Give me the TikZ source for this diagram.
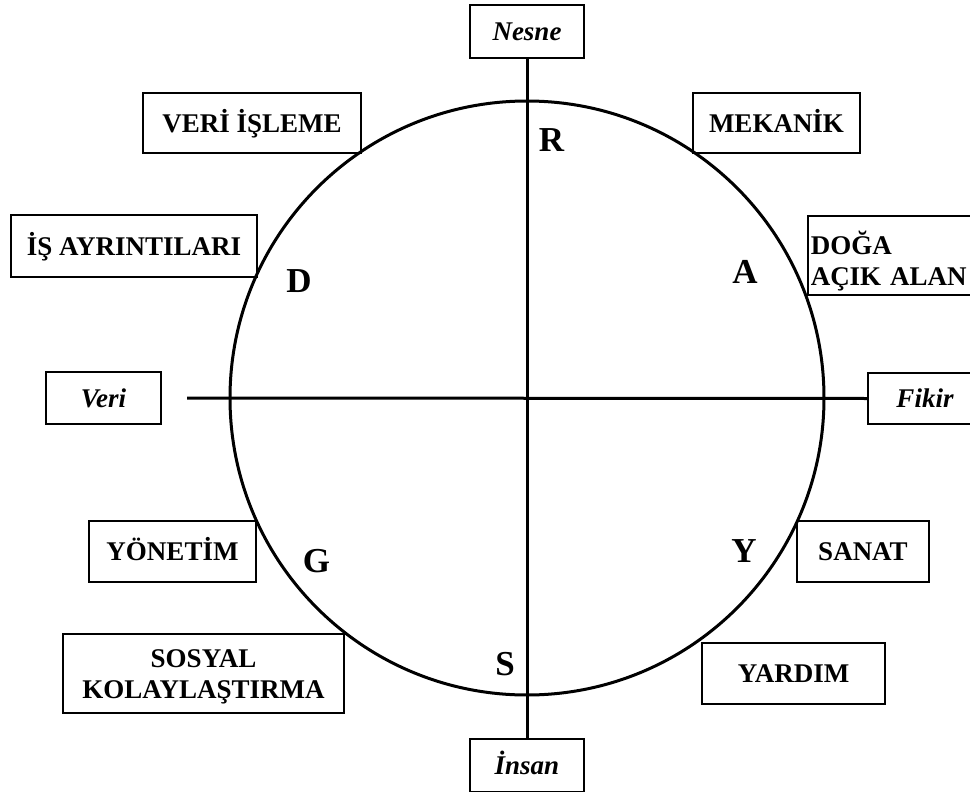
\documentclass[tikz,border=0pt]{standalone}
\usepackage{fontspec}
\setmainfont{Liberation Serif}
\begin{document}
\begin{tikzpicture}[x=1pt,y=-1pt,
  box/.style={draw, line width=1.5pt, inner sep=0pt, align=center,
    font=\fontsize{27}{31}\selectfont\bfseries},
  onebox/.style={box, text height=18pt, text depth=0pt},
  axisbox/.style={onebox, font=\fontsize{27}{31}\selectfont\bfseries\itshape,
    minimum width=114pt, minimum height=53pt},
  quad/.style={inner sep=0pt, text height=23pt, text depth=0pt,
    font=\fontsize{35}{40}\selectfont\bfseries},
  heavy/.style={line width=3pt}]
\useasboundingbox (0,0) rectangle (970,792);

% the two axes and their end labels
\node[axisbox] (nesne) at (527,31.5) {Nesne};
\node[axisbox] (insan) at (527,765.5) {İnsan};
\node[axisbox, minimum width=115pt, minimum height=52pt] (veri) at (103.5,398) {Veri};
\node[axisbox, minimum height=51pt] (fikir) at (925,398.5) {Fikir};
\coordinate (hleft) at (187,398);

\draw[heavy] (527,398) circle[radius=297];
\draw[heavy] (nesne.south) -- (insan.north);
\draw[heavy] (hleft) -- (fikir.west);

% interest fields around the ring
\node[onebox, minimum width=218pt, minimum height=60pt] (veriisleme) at (252,123) {VERİ İŞLEME};
\node[onebox, minimum width=246pt, minimum height=62pt] (isayrinti) at (134,246) {İŞ AYRINTILARI};
\node[onebox, minimum width=167pt, minimum height=60pt] (mekanik) at (776.5,123) {MEKANİK};
\node[box, anchor=north west, align=left, inner xsep=3pt, text width=162pt,
  minimum height=79pt] (doga) at (807,215) {\rule{0pt}{36pt}DOĞA\\AÇIK ALAN};
\node[box, minimum width=281pt, minimum height=79pt] (sosyal) at (203.5,673.5) {\rule{0pt}{24pt}SOSYAL\\KOLAYLAŞTIRMA};
\node[onebox, minimum width=167pt, minimum height=61pt] (yonetim) at (172.5,551.5) {YÖNETİM};
\node[onebox, minimum width=132pt, minimum height=61pt] (sanat) at (863,551.5) {SANAT};
\node[onebox, minimum width=183pt, minimum height=61pt] (yardim) at (793.5,673.5) {YARDIM};

% RIASEC letters
\node[quad] (r) at (551.5,140) {R};
\node[quad] (a) at (745,272) {A};
\node[quad] (y) at (744,550.5) {Y};
\node[quad] (s) at (505,663.5) {S};
\node[quad] (g) at (316.5,560.5) {G};
\node[quad] (d) at (299,281) {D};
\end{tikzpicture}
\end{document}
